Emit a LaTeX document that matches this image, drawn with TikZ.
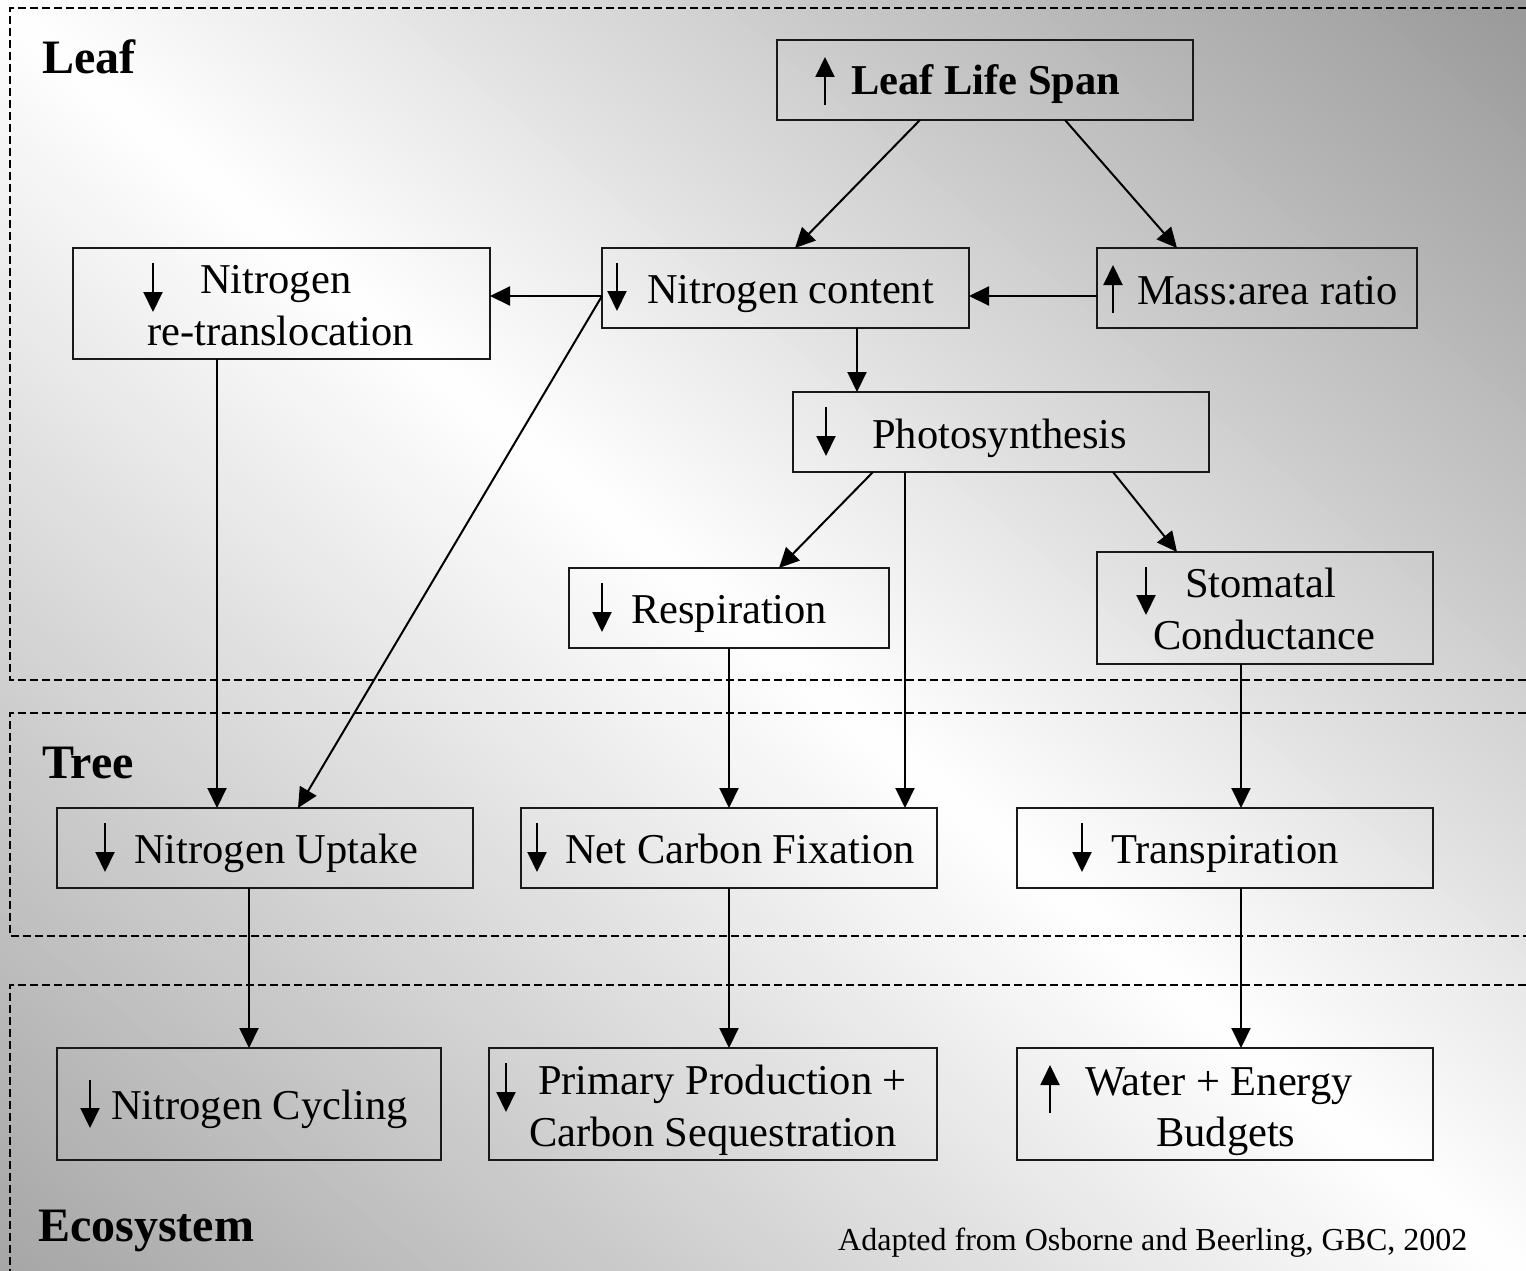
\documentclass[tikz,border=0pt]{standalone}
\usepackage{fontspec}
\setmainfont{Liberation Serif}
\usetikzlibrary{arrows.meta}
\begin{document}
\begin{tikzpicture}[x=1pt,y=-1pt,
  box/.style={draw=black!90, line width=2pt, inner sep=0pt, outer sep=0pt, anchor=north west},
  txt/.style={inner sep=0pt, anchor=base west, font=\fontsize{42.5}{50}\selectfont},
  btxt/.style={inner sep=0pt, anchor=base west, font=\fontsize{42.5}{50}\selectfont\bfseries},
  glyph/.style={draw=black, line width=2pt, -{Triangle[length=20pt,width=19pt]}},
  region/.style={inner sep=0pt, anchor=base west, font=\fontsize{48}{56}\selectfont\bfseries},
  frame/.style={draw=black, line width=1.5pt, dash pattern=on 8pt off 4pt},
  conn/.style={draw=black, line width=2pt, -{Triangle[length=20pt,width=19pt]}}]
\useasboundingbox (0,0) rectangle (1526,1271);
% background gradient: white along the main diagonal, grey towards the other corners
\begin{scope}
\clip (0,0) rectangle (1526,1271);
\foreach \s in {-1000,-990,...,990}{
  \pgfmathsetmacro\p{ifthenelse(\s+5>0, min(42,(\s+5)/976*40), min(37,-(\s+5)/976*35))}
  \fill[black!\p] ({763+0.640*\s+900},{635.5-0.768*\s+750}) -- ({763+0.640*\s-900},{635.5-0.768*\s-750})
     -- ({763+0.640*(\s+12)-900},{635.5-0.768*(\s+12)-750}) -- ({763+0.640*(\s+12)+900},{635.5-0.768*(\s+12)+750}) -- cycle;
}
\end{scope}
% region frames
\draw[frame] (1526,8) -- (10,8) -- (10,680) -- (1526,680);
\draw[frame] (1526,713) -- (10,713) -- (10,936) -- (1526,936);
\draw[frame] (1526,985) -- (10,985) -- (10,1271);
\node[region] (leaflbl) at (42,74) {Leaf};
\node[region] (treelbl) at (42,778) {Tree};
\node[region] (ecolbl) at (38,1241) {Ecosystem};
% boxes
\node[box, minimum width=416pt, minimum height=80pt] (lls) at (777,40) {};
\node[box, minimum width=417pt, minimum height=111pt] (nrt) at (73,248) {};
\node[box, minimum width=367pt, minimum height=80pt] (nc) at (602,248) {};
\node[box, minimum width=320pt, minimum height=80pt] (mass) at (1097,248) {};
\node[box, minimum width=416pt, minimum height=80pt] (photo) at (793,392) {};
\node[box, minimum width=320pt, minimum height=80pt] (resp) at (569,568) {};
\node[box, minimum width=336pt, minimum height=112pt] (stom) at (1097,552) {};
\node[box, minimum width=416pt, minimum height=80pt] (nup) at (57,808) {};
\node[box, minimum width=416pt, minimum height=80pt] (ncf) at (521,808) {};
\node[box, minimum width=416pt, minimum height=80pt] (transp) at (1017,808) {};
\node[box, minimum width=384pt, minimum height=112pt] (ncyc) at (57,1048) {};
\node[box, minimum width=448pt, minimum height=112pt] (pp) at (489,1048) {};
\node[box, minimum width=416pt, minimum height=112pt] (water) at (1017,1048) {};
% up / down symbols
\draw[glyph] (825,105) -- (825,57);
\draw[glyph] (153,263) -- (153,312);
\draw[glyph] (617,263) -- (617,311);
\draw[glyph] (1113,313) -- (1113,265);
\draw[glyph] (826,407) -- (826,456);
\draw[glyph] (602,583) -- (602,632);
\draw[glyph] (1146,567) -- (1146,615);
\draw[glyph] (105,823) -- (105,872);
\draw[glyph] (537,823) -- (537,872);
\draw[glyph] (1082,823) -- (1082,872);
\draw[glyph] (90,1080) -- (90,1128);
\draw[glyph] (506,1063) -- (506,1112);
\draw[glyph] (1050,1113) -- (1050,1065);
% texts
\node[btxt] (t1) at (851,95) {Leaf Life Span};
\node[txt] (t2a) at (200,293) {Nitrogen};
\node[txt] (t2b) at (147,345) {re-translocation};
\node[txt] (t3) at (647,303) {Nitrogen content};
\node[txt] (t4) at (1137,304) {Mass:area ratio};
\node[txt] (t5) at (872,448) {Photosynthesis};
\node[txt] (t6) at (631,623) {Respiration};
\node[txt] (t7a) at (1185,597) {Stomatal};
\node[txt] (t7b) at (1153,649) {Conductance};
\node[txt] (t8) at (134,863) {Nitrogen Uptake};
\node[txt] (t9) at (565,863) {Net Carbon Fixation};
\node[txt] (t10) at (1111,863) {Transpiration};
\node[txt] (t11) at (111,1119) {Nitrogen Cycling};
\node[txt] (t12a) at (538,1094) {Primary Production +};
\node[txt] (t12b) at (529,1146) {Carbon Sequestration};
\node[txt] (t13a) at (1085,1095) {Water + Energy};
\node[txt] (t13b) at (1156,1146) {Budgets};
\node[inner sep=0pt, anchor=base west, font=\fontsize{32}{38}\selectfont] (credit) at (838,1250) {Adapted from Osborne and Beerling, GBC, 2002};
% connectors
\draw[conn] ([xshift=143pt]lls.south west) -- ([xshift=193pt]nc.north west);
\draw[conn] ([xshift=288pt]lls.south west) -- ([xshift=80pt]mass.north west);
\draw[conn] ([yshift=-8pt]mass.west) -- ([yshift=-8pt]nc.east);
\draw[conn] ([yshift=-8pt]nc.west) -- ([yshift=-8pt]nc.west -| nrt.east);
\draw[conn] ([yshift=-8pt]nc.west) -- ([xshift=241pt]nup.north west);
\draw[conn] ([xshift=255pt]nc.south west) -- ([xshift=64pt]photo.north west);
\draw[conn] ([xshift=144pt]nrt.south west) -- ([xshift=160pt]nup.north west);
\draw[conn] ([xshift=80pt]photo.south west) -- ([xshift=210pt]resp.north west);
\draw[conn] ([xshift=112pt]photo.south west) -- ([xshift=384pt]ncf.north west);
\draw[conn] ([xshift=320pt]photo.south west) -- ([xshift=80pt]stom.north west);
\draw[conn] (resp.south) -- ([xshift=208pt]ncf.north west);
\draw[conn] ([xshift=144pt]stom.south west) -- ([xshift=224pt]transp.north west);
\draw[conn] ([xshift=192pt]nup.south west) -- (ncyc.north);
\draw[conn] ([xshift=208pt]ncf.south west) -- ([xshift=240pt]pp.north west);
\draw[conn] ([xshift=224pt]transp.south west) -- ([xshift=224pt]water.north west);
\end{tikzpicture}
\end{document}
